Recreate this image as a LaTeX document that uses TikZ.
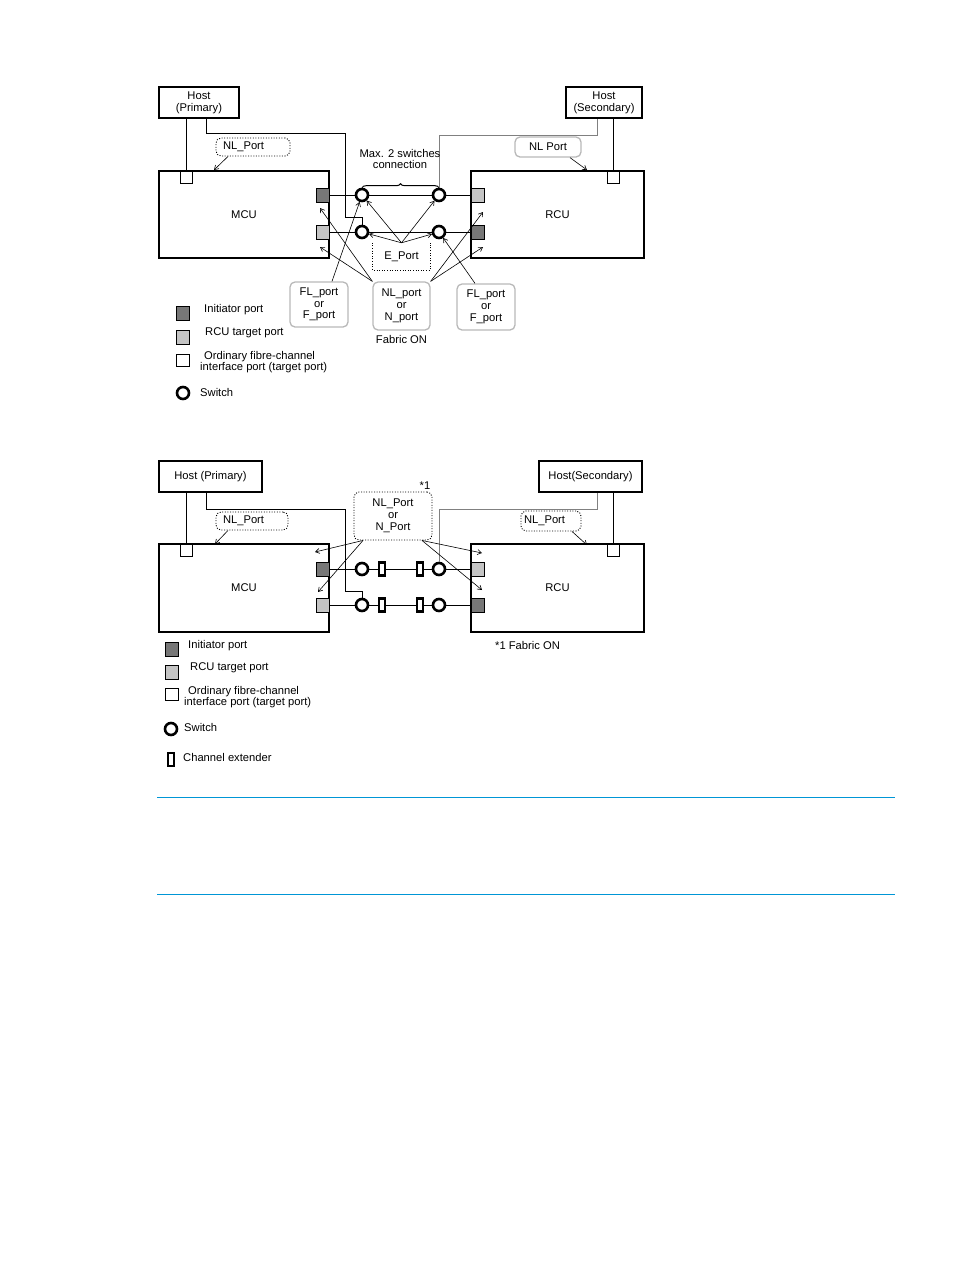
\documentclass[tikz,border=0pt]{standalone}
\usepackage{fontspec}
\setmainfont{Liberation Sans}
\usetikzlibrary{arrows.meta,decorations.pathreplacing,positioning}
\definecolor{portdk}{HTML}{777777}
\definecolor{portlt}{HTML}{C4C4C4}
\definecolor{boxgray}{HTML}{B8B8B8}
\definecolor{rulebl}{HTML}{0096D6}
\tikzset{
  lbl/.style={font=\fontsize{11.2}{11.8}\selectfont, inner sep=0pt, align=center},
  unitbox/.style={draw, line width=2.2pt, inner sep=0pt, lbl},
  portsq/.style={draw, line width=0.8pt, minimum width=13pt, minimum height=14pt, inner sep=0pt},
  pdark/.style={portsq, fill=portdk},
  plight/.style={portsq, fill=portlt},
  pwhite/.style={portsq, fill=white, minimum width=12pt, minimum height=12pt},
  swnode/.style={circle, draw, line width=2.6pt, fill=white, minimum size=12pt, inner sep=0pt},
  extnode/.style={draw, line width=2.3pt, fill=white, minimum width=6pt, minimum height=13pt, inner sep=0pt},
  graybox/.style={draw=boxgray, line width=1.3pt, rounded corners=5pt, lbl},
  dotline/.style={line width=0.9pt, dash pattern=on 1pt off 1.6pt},
  dotbox/.style={draw, dotline, rounded corners=5pt, lbl},
  arr/.style={-{Straight Barb[length=4pt,width=5pt]}, line width=0.6pt},
  link/.style={line width=1pt},
}
\begin{document}
\begin{tikzpicture}[x=1pt,y=-1pt]
\useasboundingbox (0,0) rectangle (954,1270);
% upper diagram: switches only
\node[unitbox, minimum width=80, minimum height=31] (hostP) at (199,102.5) {Host\\(Primary)};
\node[unitbox, minimum width=76, minimum height=31] (hostS) at (604,102.5) {Host\\(Secondary)};
\node[unitbox, minimum width=170, minimum height=87] (mcu) at (244,214.5) {MCU};
\node[unitbox, minimum width=173, minimum height=87] (rcu) at (557.5,214.5) {RCU};
\node[pwhite] (mcuW) at (186,177) {};
\node[pdark] (mcuA) at (322.5,195) {}; \node[plight] (mcuB) at (322.5,232) {};
\node[pwhite] (rcuW) at (613.5,177) {};
\node[plight] (rcuA) at (477.5,195) {}; \node[pdark] (rcuB) at (477.5,232) {};
\node[swnode] (swA) at (362,195) {}; \node[swnode] (swB) at (439,195) {};
\node[swnode] (swC) at (362,232) {}; \node[swnode] (swD) at (439,232) {};
\draw[link] (mcuA) -- (swA) -- (swB) -- (rcuA);
\draw[link] (mcuB) -- (swC) -- (swD) -- (rcuB);
\coordinate (bendA) at (345,133); \coordinate (bendB) at (345,217); \coordinate (bendC) at (439,135);
\draw[link] (hostP.south -| mcuW) -- (mcuW);
\draw[link] ([xshift=7pt]hostP.south) |- (bendA) -- (bendB) -| (swC);
\draw[link] (hostS.south -| rcuW) -- (rcuW);
\draw[link, gray] ([xshift=-7pt]hostS.south) |- (bendC) -- (swB);
\draw[link, decorate, decoration={brace, amplitude=4pt}] (swA.north) -- (swA.north -| bendC);
\node[lbl] (maxsw) at (400,159) {Max. 2 switches\\connection};
\node[lbl, minimum width=57, minimum height=27] (eport) at (401.5,256.5) {E\_Port};
\draw[dotline] (eport.north west) -- (eport.south west) -- (eport.south east) -- (eport.north east);
\foreach \s in {swA,swB,swC,swD} \draw[arr] (eport.north) -- (\s);
\node[graybox, minimum width=58, minimum height=45] (flL) at (319,304.5) {FL\_port\\or\\F\_port};
\node[graybox, minimum width=57, minimum height=48] (nlM) at (401.5,306) {NL\_port\\or\\N\_port};
\node[graybox, minimum width=58, minimum height=46] (flR) at (486,307) {FL\_port\\or\\F\_port};
\node[lbl, below=5pt of nlM] (fabric) {Fabric ON};
\coordinate (mcuT1) at (320,208); \coordinate (mcuT2) at (320,247);
\coordinate (rcuT1) at (483,212); \coordinate (rcuT2) at (483,247);
\draw[arr] ([xshift=13pt]flL.north) -- (swA);
\draw[arr] ([xshift=-11pt]flR.north) -- (swD);
\draw[arr] (nlM.north west) -- (mcuT1); \draw[arr] (nlM.north west) -- (mcuT2);
\draw[arr] (nlM.north east) -- (rcuT1); \draw[arr] (nlM.north east) -- (rcuT2);
\node[dotbox, minimum width=74, minimum height=18, text width=60, align=left] (nlL) at (253,147) {NL\_Port};
\node[graybox, minimum width=66, minimum height=20] (nlR) at (548,147) {NL Port};
\coordinate (mcuTop) at (214,170); \coordinate (rcuTop) at (587,170);
\draw[arr] ([xshift=-25pt]nlL.south) -- (mcuTop);
\draw[arr] ([xshift=22pt]nlR.south) -- (rcuTop);
% upper legend
\node[pdark] (legA) at (182.5,313) {}; \node[lbl, anchor=west] (legAt) at (204,310) {Initiator port};
\node[plight] (legB) at (182.5,337) {}; \node[lbl, anchor=west] (legBt) at (205,333) {RCU target port};
\node[pwhite, minimum width=13pt] (legC) at (182.5,360.5) {};
\node[lbl, anchor=west, align=left] (legCt) at (200,362) {\hspace{4pt}Ordinary fibre-channel\\interface port (target port)};
\node[swnode] (legD) at (183,393) {}; \node[lbl, anchor=west] (legDt) at (200,392) {Switch};
% lower diagram: switches with channel extenders
\node[unitbox, minimum width=103, minimum height=31] (hostP2) at (210.5,476.5) {Host (Primary)};
\node[unitbox, minimum width=103, minimum height=31] (hostS2) at (590.5,476.5) {Host(Secondary)};
\node[unitbox, minimum width=170, minimum height=88] (mcu2) at (244,588) {MCU};
\node[unitbox, minimum width=173, minimum height=88] (rcu2) at (557.5,588) {RCU};
\node[pwhite] (mcuW2) at (186.5,550.5) {};
\node[pdark] (mcuA2) at (322.5,569) {}; \node[plight] (mcuB2) at (322.5,605) {};
\node[pwhite] (rcuW2) at (613.5,550.5) {};
\node[plight] (rcuA2) at (477.5,569) {}; \node[pdark] (rcuB2) at (477.5,605) {};
\node[swnode] (swA2) at (362,569) {}; \node[swnode] (swB2) at (439,569) {};
\node[swnode] (swC2) at (362,605) {}; \node[swnode] (swD2) at (439,605) {};
\node[extnode] (exA2) at (382,569) {}; \node[extnode] (exB2) at (420,569) {};
\node[extnode] (exC2) at (382,605) {}; \node[extnode] (exD2) at (420,605) {};
\draw[link] (mcuA2) -- (swA2) -- (exA2) -- (exB2) -- (swB2) -- (rcuA2);
\draw[link] (mcuB2) -- (swC2) -- (exC2) -- (exD2) -- (swD2) -- (rcuB2);
\coordinate (bendA2) at (345,509); \coordinate (bendB2) at (345,591); \coordinate (bendC2) at (439,509);
\draw[link] (hostP2.south -| mcuW2) -- (mcuW2);
\draw[link] ([xshift=-4.5pt]hostP2.south) |- (bendA2) -- (bendB2) -| (swC2);
\draw[link] (hostS2.south -| rcuW2) -- (rcuW2);
\draw[link, gray] ([xshift=6.5pt]hostS2.south) |- (bendC2) -- (swB2);
\node[dotbox, fill=white, minimum width=78, minimum height=48] (nlM2) at (393,516) {NL\_Port\\or\\N\_Port};
\node[lbl] (star2) at (425,486) {*1};
\coordinate (mcuT3) at (315,552); \coordinate (mcuT4) at (318,592);
\coordinate (rcuT3) at (482,553); \coordinate (rcuT4) at (482,590);
\draw[arr] ([xshift=-30pt]nlM2.south) -- (mcuT3); \draw[arr] ([xshift=-30pt]nlM2.south) -- (mcuT4);
\draw[arr] ([xshift=29pt]nlM2.south) -- (rcuT3); \draw[arr] ([xshift=29pt]nlM2.south) -- (rcuT4);
\node[dotbox, minimum width=72, minimum height=18, text width=58, align=left] (nlL2) at (252,521) {NL\_Port};
\node[dotbox, minimum width=60, minimum height=20, text width=54, align=left] (nlR2) at (551,521) {NL\_Port};
\coordinate (mcuTop2) at (215,544); \coordinate (rcuTop2) at (587,545);
\draw[arr] ([xshift=-24pt]nlL2.south) -- (mcuTop2);
\draw[arr] ([xshift=21pt]nlR2.south) -- (rcuTop2);
\node[lbl, anchor=west] (fabric2) at (495,645) {*1 Fabric ON};
% lower legend
\node[pdark] (legA2) at (171.5,649.5) {}; \node[lbl, anchor=west] (legAt2) at (188,646) {Initiator port};
\node[plight] (legB2) at (171.5,672) {}; \node[lbl, anchor=west] (legBt2) at (190,668) {RCU target port};
\node[pwhite, minimum width=13pt] (legC2) at (171.5,694.5) {};
\node[lbl, anchor=west, align=left] (legCt2) at (184,697) {\hspace{4pt}Ordinary fibre-channel\\interface port (target port)};
\node[swnode] (legD2) at (171,729) {}; \node[lbl, anchor=west] (legDt2) at (184,727) {Switch};
\node[extnode] (legE2) at (171,759.5) {}; \node[lbl, anchor=west] (legEt2) at (183,757) {Channel extender};
% page rules
\draw[rulebl, line width=1pt] (157,797) -- (895,797);
\draw[rulebl, line width=1pt] (157,894) -- (895,894);
\end{tikzpicture}
\end{document}
